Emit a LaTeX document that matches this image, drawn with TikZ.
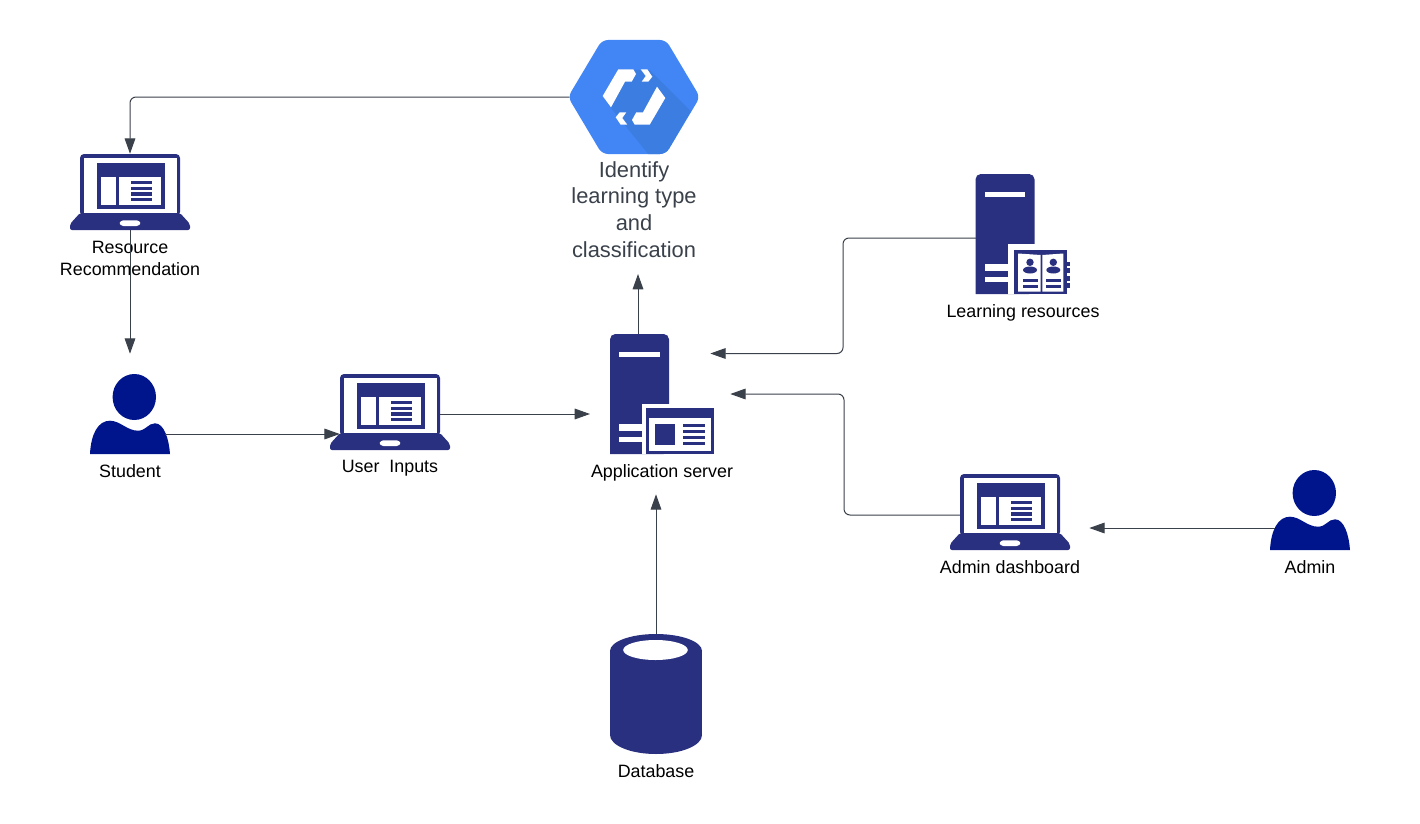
\documentclass[tikz,border=0pt]{standalone}
\usepackage{fontspec}
\setmainfont{Liberation Sans}
\usetikzlibrary{arrows.meta}

\definecolor{navy}{HTML}{29307F}
\definecolor{userblue}{HTML}{00148C}
\definecolor{hexblue}{HTML}{4285F4}
\definecolor{hexshade}{HTML}{3B7DE0}
\definecolor{linkgrey}{HTML}{3A414A}

\tikzstyle{laptopbox} = [inner sep=0,minimum width=75pt,minimum height=57pt]
\tikzstyle{towerbox} = [inner sep=0,minimum width=44.25pt,minimum height=90pt]
\tikzstyle{userbox} = [inner sep=0,minimum width=60pt,minimum height=60pt]
\tikzstyle{dbbox} = [inner sep=0,minimum width=69pt,minimum height=90pt]
\tikzstyle{hexbox} = [inner sep=0,minimum width=96pt,minimum height=85.5pt]
\tikzstyle{label} = [inner sep=0,align=center,text=black,font=\fontsize{13.4}{16.4}\selectfont]
\tikzstyle{biglabel} = [inner sep=0,align=center,text=linkgrey,font=\fontsize{16.4}{20}\selectfont]
\tikzstyle{link} = [draw=linkgrey,line width=.75pt,rounded corners=4.5pt,-{Triangle[length=11.5pt,width=8pt]}]

\tikzset{
	laptop/.pic={
		\fill[navy,rounded corners=3pt] (-50,24) -- (-50,-38) -- (50,-38) -- (50,24) -- cycle;
		\fill[white] (-46.5,-34.5) rectangle (46.5,21);
		\fill[navy,rounded corners=1.5pt] (-50,21) -- (47,21) -- (50,21) -- (60,32) -- (60,38) -- (-60,38) -- (-60,32) -- cycle;
		\fill[white,rounded corners=1pt] (-8,28.3) -- (8,28.3) -- (11,31.2) -- (8,34) -- (-8,34) -- (-11,31.2) -- cycle;
		\fill[navy] (-33.5,-29) rectangle (35,17);
		\fill[white] (-29,-15) rectangle (-14,13);
		\fill[white] (-11,-15) rectangle (31,13);
		\foreach \y in {-11,-5.3,0.3,6}
			\fill[navy] (1,\y) rectangle (22,\y+3.4);
	},
	tower/.pic={
		\fill[navy,rounded corners=4pt] (-29.5,60) -- (-29.5,-60) -- (29.5,-60) -- (29.5,60) [sharp corners] -- cycle;
		\fill[white] (-20.5,-42.3) rectangle (20,-36.7);
		\fill[white] (-20.5,30.3) rectangle (5,36.7);
		\fill[white] (-20.5,42.7) rectangle (5,48.3);
	},
	card/.pic={
		\fill[white] (2.2,10) rectangle (74.5,60);
		\fill[navy] (6.2,14.3) rectangle (74.2,60);
		\fill[white] (9.5,24.3) rectangle (71.2,56.7);
		\fill[navy] (15.5,30) rectangle (35.5,51);
		\foreach \y in {30,36,42,48}
			\fill[navy] (43.5,\y) rectangle (65.5,\y+3);
	},
	book/.pic={
		\fill[white] (3,10.3) rectangle (66,60);
		\fill[navy] (9.3,16) rectangle (62.3,59.5);
		\fill[white] (13,19.5) -- (35.7,21) -- (35.7,57.7) -- (13,57.7) -- cycle;
		\fill[white] (58.3,19.5) -- (37.3,21) -- (37.3,57.7) -- (58.3,57.7) -- cycle;
		\foreach \y in {27.7,34,42,49}
			\fill[navy] (62.3,\y) rectangle (64.5,\y+4.7);
		\foreach \x in {25,48.3} {
			\fill[navy] (\x,28.3) circle (3.7);
			\fill[navy] (\x,36) ellipse (7 and 3.5);
			\fill[navy] (\x-7.3,45.3) rectangle (\x+7.7,47.7);
			\fill[navy] (\x-7.3,51.3) rectangle (\x+7.7,53.7);
		}
	},
	person/.pic={
		\fill[userblue] (4.3,-17) ellipse (21.7 and 23);
		\fill[userblue] (-40,40) .. controls (-39,20) and (-32,6.7) .. (-20,6.7) .. controls (-10,6.7) and (-3,16.7) .. (8,16.7) .. controls (16,16.7) and (18,9.3) .. (25,9.3) .. controls (34,9.3) and (39,25) .. (40,40) -- cycle;
	},
	cylinder/.pic={
		\fill[navy] (0,-43) ellipse (46 and 17);
		\fill[navy] (-46,-43) rectangle (46,41);
		\fill[navy] (0,41) ellipse (46 and 19);
		\fill[white] (-0.5,-44) ellipse (32.3 and 10);
	},
	hexagon/.pic={
		\fill[hexblue,rounded corners=4.5pt] (-66,0) -- (-32,-57) -- (32,-57) -- (66,0) -- (32,57) -- (-32,57) -- cycle;
		\begin{scope}
			\clip[rounded corners=4.5pt] (-66,0) -- (-32,-57) -- (32,-57) -- (66,0) -- (32,57) -- (-32,57) -- cycle;
			\fill[hexshade] (16,-26.7) -- (56.7,14) -- (32,57) -- (14.3,57) -- (-23,11) -- (-31,-1) -- (-15.7,-27.7) -- cycle;
		\end{scope}
		\foreach \s in {1,-1} {
			\begin{scope}[scale=\s]
				\fill[white] (-15.7,-27.7) -- (-0.7,-27.7) -- (2,-23) -- (-2.3,-15.3) -- (-9,-15.3) -- (-23,10.3) -- (-31.3,-1) -- cycle;
				\fill[white] (6.7,-27.7) -- (13.3,-27.7) -- (18.3,-20.3) -- (14.3,-15.3) -- (7.7,-15.3) -- (11.7,-21) -- cycle;
			\end{scope}
		}
	}
}

\begin{document}
\begin{tikzpicture}[x=.75pt,y=-.75pt]
	\useasboundingbox (0,0) rectangle (1420,824);

	\node[hexbox] (classifier) at (634,97) {};
	\node[laptopbox] (resource) at (130,192) {};
	\node[userbox] (student) at (130,414) {};
	\node[laptopbox] (inputs) at (390,412) {};
	\node[towerbox] (appserver) at (639.5,394) {};
	\node[towerbox] (learning) at (1005,234) {};
	\node[laptopbox] (dashboard) at (1010,512) {};
	\node[userbox] (admin) at (1310,510) {};
	\node[dbbox] (database) at (656,694) {};

	\pic at (classifier) {hexagon};
	\pic at (resource) {laptop};
	\pic at (student) {person};
	\pic at (inputs) {laptop};
	\pic at (appserver) {tower};
	\pic at (appserver) {card};
	\pic at (learning) {tower};
	\pic at (learning) {book};
	\pic at (dashboard) {laptop};
	\pic at (admin) {person};
	\pic at (database) {cylinder};

	\node[biglabel] (classifierlabel) at (634,209.5) {Identify\\learning type\\and\\classification};
	\node[label] (resourcelabel) at (130,258.5) {Resource\\Recommendation};
	\node[label] (studentlabel) at (130,471) {Student};
	\node[label] (inputslabel) at (390,468.5) {User\ \ Inputs};
	\node[label] (appserverlabel) at (662,473) {Application server};
	\node[label] (learninglabel) at (1023,313) {Learning resources};
	\node[label] (dashboardlabel) at (1010,567) {Admin dashboard};
	\node[label] (adminlabel) at (1310,567) {Admin};
	\node[label] (databaselabel) at (656,771) {Database};

	\coordinate (studenttip) at (130,353.7);
	\coordinate (studentout) at (165,434);
	\coordinate (apptipleft) at (590,414);
	\coordinate (apptipbottom) at (656,494.3);
	\coordinate (classtip) at (638,274);
	\coordinate (learningout) at (976,238);
	\coordinate (learningbus) at (843,300);
	\coordinate (apptipupper) at (710.3,353.5);
	\coordinate (dashboardout) at (960,515);
	\coordinate (dashboardbus) at (844,450);
	\coordinate (apptiplower) at (730.3,394);
	\coordinate (adminout) at (1275,528);
	\coordinate (dashboardtip) at (1089.3,528);

	\draw[link] (classifier.west) -| (resource.north);
	\draw[link] (resource.south) -- (studenttip);
	\draw[link] (studentout) -- (inputs.west |- studentout);
	\draw[link] (inputs.east |- apptipleft) -- (apptipleft);
	\draw[link] (appserver.north -| classtip) -- (classtip);
	\draw[link] (learningout) -| (learningbus) |- (apptipupper);
	\draw[link] (dashboardout) -| (dashboardbus) |- (apptiplower);
	\draw[link] (adminout) -- (dashboardtip);
	\draw[link] (database.north) -- (apptipbottom);
\end{tikzpicture}
\end{document}
